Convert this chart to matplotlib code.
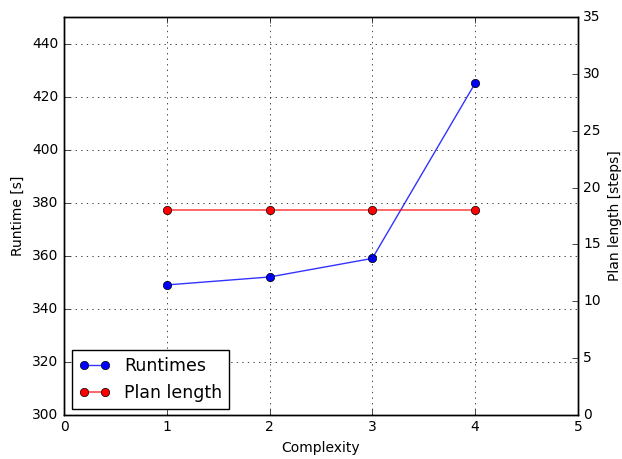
import matplotlib
matplotlib.use("Agg")
import matplotlib.pyplot as plt

complexity = [1, 2, 3, 4]
runtimes = [349, 352, 359, 425]
plan_length = [18, 18, 18, 18]


def main():
    plt.style.use("classic")
    plt.rcParams.update({"font.family": ["DejaVu Sans"], "font.size": 10})
    fig = plt.figure(figsize=(6.22, 4.59), dpi=100, facecolor="w")
    ax = fig.add_axes([0.103, 0.096, 0.826, 0.867])
    ax2 = ax.twinx()

    l1 = ax.plot(
        complexity, runtimes, "-o", color=(0, 0, 1, 0.8), markerfacecolor="b",
        markeredgecolor="k", markersize=6, linewidth=1.0, label="Runtimes",
    )
    l2 = ax2.plot(
        complexity, plan_length, "-o", color=(1, 0, 0, 0.7), markerfacecolor="r",
        markeredgecolor="k", markersize=6, linewidth=1.2, label="Plan length",
    )

    ax.set_xlim(0, 5)
    ax.set_ylim(300, 450)
    ax.set_yticks(range(300, 441, 20))
    ax2.set_ylim(0, 35)
    ax2.set_yticks(range(0, 36, 5))
    ax.set_xlabel("Complexity")
    ax.set_ylabel("Runtime [s]")
    ax2.set_ylabel("Plan length [steps]")
    ax.grid(True)

    lines = l1 + l2
    ax.legend(lines, [l.get_label() for l in lines], loc="lower left",
              fontsize=12.5, numpoints=2, handlelength=1.8, borderaxespad=0,
              bbox_to_anchor=(0.0156, 0.015))

    fig.savefig("out.png", dpi=100, facecolor="w")


if __name__ == "__main__":
    main()
